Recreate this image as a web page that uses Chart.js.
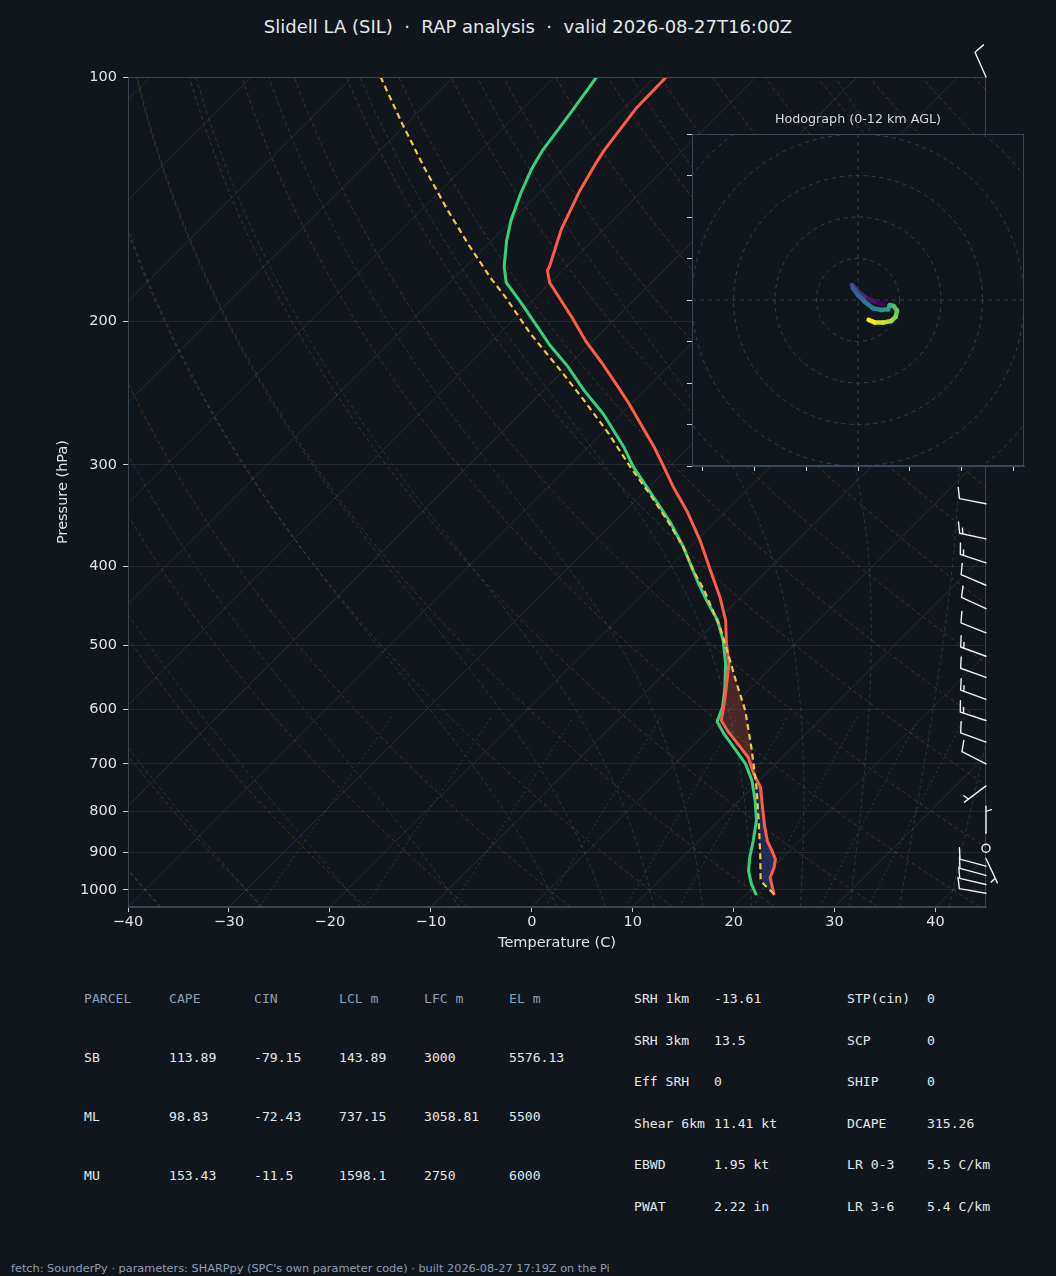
<!DOCTYPE html>
<html>
<head>
<meta charset="utf-8">
<script src="https://cdn.jsdelivr.net/npm/chart.js@4.4.1/dist/chart.umd.min.js"></script>
<style>
  html, body { margin:0; padding:0; background:#11161d; }
  body { width:1056px; height:1276px; position:relative; overflow:hidden; font-family:'DejaVu Sans', sans-serif; }
  #title { position:absolute; left:0; top:15px; width:1056px; text-align:center; font-size:18px; line-height:24px; color:#e4e7ea; white-space:pre; }
  #main { position:absolute; left:0; top:0; }
  #hodo { position:absolute; left:660px; top:100px; }
  .cell { position:absolute; white-space:pre; font-family:'DejaVu Sans Mono', monospace; font-size:13.1px; line-height:16px; color:#e4e7ea; }
  .hdr { color:#8d9db2; }
  #foot { position:absolute; left:11px; top:1262px; font-size:11.3px; line-height:14px; color:#8d9db2; white-space:pre; }
</style>
</head>
<body>
<div id="title"></div>
<canvas id="main" width="1056" height="960"></canvas>
<canvas id="hodo" width="380" height="380"></canvas>
<div id="tables"></div>
<div id="foot"></div>
<script>
// ---------------- data ----------------
const titleText = 'Slidell LA (SIL)  \u00b7  RAP analysis  \u00b7  valid 2026-08-27T16:00Z';
const footText = "fetch: SounderPy \u00b7 parameters: SHARPpy (SPC's own parameter code) \u00b7 built 2026-08-27 17:19Z on the Pi";

const pressureTicks = [100, 200, 300, 400, 500, 600, 700, 800, 900, 1000];
const tempTicks = [-40, -30, -20, -10, 0, 10, 20, 30, 40];

// environmental temperature (hPa, degC)
const tempP = [1012, 966, 939, 917, 895, 871, 838, 792, 748, 720, 687, 662, 637, 619, 580, 525, 498, 466, 437, 405, 372, 343, 320, 299, 285, 267, 252, 238, 225, 211, 197, 186, 179, 173, 171, 154, 138, 128, 123, 109, 100];
const tempC = [22.7, 20.7, 20.1, 19.4, 18.2, 16.8, 15.2, 13.0, 10.8, 8.8, 6.6, 4.3, 1.9, 0.3, -1.6, -4.7, -6.8, -9.2, -12.0, -15.6, -19.6, -23.7, -27.5, -31.0, -33.5, -37.1, -40.3, -43.6, -46.9, -50.8, -54.6, -57.9, -60.1, -61.5, -61.7, -64.2, -66.2, -67.3, -67.8, -68.8, -68.9];

// dewpoint
const dewP = [1012, 984, 948, 913, 871, 822, 777, 734, 700, 668, 643, 621, 596, 564, 527, 494, 466, 441, 416, 379, 353, 329, 302, 285, 260, 243, 227, 214, 203, 189, 179, 171, 159, 150, 139, 130, 123, 111, 100];
const dewC = [20.9, 19.5, 17.9, 16.7, 15.4, 13.7, 11.6, 9.3, 7.0, 4.2, 1.9, 0.0, -0.9, -2.6, -4.9, -7.4, -10.0, -13.0, -16.0, -20.6, -24.4, -28.5, -33.5, -36.5, -41.7, -46.0, -50.0, -53.8, -56.9, -61.1, -64.4, -66.2, -68.5, -70.1, -71.8, -73.1, -73.9, -74.8, -75.8];

// surface-based parcel
const parcelP = [1012, 984, 970, 904, 815, 748, 674, 602, 558, 522, 475, 462, 428, 405, 379, 351, 326, 302, 275, 250, 230, 207, 186, 177, 161, 146, 130, 114, 100];
const parcelC = [22.7, 20.7, 19.9, 17.4, 13.6, 10.4, 6.3, 1.7, -1.8, -4.8, -9.1, -10.5, -14.3, -17.3, -20.6, -24.9, -29.2, -33.8, -39.2, -45.0, -50.2, -56.9, -63.2, -66.3, -71.8, -77.3, -83.6, -90.5, -97.2];

// shading bounds (hPa): CIN below LFC, CAPE between LFC and EL
const lfcP = 720, elP = 525, sfcP = 1012;

// wind barbs (hPa, direction deg, speed kt)
const barbP   = [100, 335, 370, 396, 422, 451, 483, 516, 548, 583, 619, 658, 700, 745, 852, 889, 915, 935, 960, 985, 1010];
const barbDir = [336, 281, 282, 288, 293, 295, 292, 290, 290, 290, 288, 290, 297, 233, 0, 0, 155, 285, 285, 283, 280];
const barbSpd = [10, 10, 15, 15, 10, 10, 10, 15, 10, 15, 15, 10, 10, 5, 5, 0, 5, 10, 10, 10, 10];

// hodograph (kt), low levels first
const hodoU = [12.4, 8.0, 3.2, -0.8, -2.9, -2.4, 0.0, 3.2, 7.2, 11.2, 14.5, 15.3, 17.2, 18.8, 18.2, 16.1, 12.0, 8.0, 5.1];
const hodoV = [-2.2, -0.8, 1.6, 4.8, 7.2, 5.6, 2.4, -0.8, -4.0, -4.8, -4.5, -2.4, -2.9, -5.1, -8.0, -10.1, -10.9, -10.8, -9.6];
const hodoRings = [20, 40, 60, 80, 100];
const hodoXTicks = [-75, -50, -25, 0, 25, 50, 75];
const hodoYTicks = [-80, -60, -40, -20, 0, 20, 40, 60, 80];

// parameter tables
const parcelHeader = ['PARCEL', 'CAPE', 'CIN', 'LCL m', 'LFC m', 'EL m'];
const parcelSB = ['SB', '113.89', '-79.15', '143.89', '3000', '5576.13'];
const parcelML = ['ML', '98.83', '-72.43', '737.15', '3058.81', '5500'];
const parcelMU = ['MU', '153.43', '-11.5', '1598.1', '2750', '6000'];
const paramNames1 = ['SRH 1km', 'SRH 3km', 'Eff SRH', 'Shear 6km', 'EBWD', 'PWAT'];
const paramVals1  = ['-13.61', '13.5', '0', '11.41 kt', '1.95 kt', '2.22 in'];
const paramNames2 = ['STP(cin)', 'SCP', 'SHIP', 'DCAPE', 'LR 0-3', 'LR 3-6'];
const paramVals2  = ['0', '0', '0', '315.26', '5.5 C/km', '5.4 C/km'];

// ---------------- page text ----------------
document.getElementById('title').textContent = titleText;
document.getElementById('foot').textContent = footText;
(function buildTables(){
  const host = document.getElementById('tables');
  const add = (txt, x, y, cls) => { const d = document.createElement('div'); d.className = 'cell' + (cls ? ' ' + cls : ''); d.textContent = txt; d.style.left = x + 'px'; d.style.top = (y - 8) + 'px'; host.appendChild(d); };
  const colX = [84, 169, 254, 339, 424, 509];
  parcelHeader.forEach((t, i) => add(t, colX[i], 999, 'hdr'));
  [parcelSB, parcelML, parcelMU].forEach((row, r) => row.forEach((t, i) => add(t, colX[i], 1058 + r * 59, '')));
  const rowY = [999, 1041, 1082, 1124, 1165, 1207];
  paramNames1.forEach((t, i) => { add(t, 634, rowY[i]); add(paramVals1[i], 714, rowY[i]); });
  paramNames2.forEach((t, i) => { add(t, 847, rowY[i]); add(paramVals2[i], 927, rowY[i]); });
})();

// ---------------- skew-T geometry ----------------
Chart.defaults.font.family = "'DejaVu Sans', sans-serif";
const PBOT = 1050, PTOP = 100, TMIN = -40, TMAX = 45;
const PLOT_W = 858, PLOT_H = 830;
const SKEW = (PLOT_H / Math.log10(PBOT / PTOP)) / (PLOT_W / (TMAX - TMIN)); // 45 degree isotherms
const sk = (T, p) => ({ x: T + SKEW * Math.log10(PBOT / p), y: p });

function interp(P, V, p) {
  for (let i = 0; i < P.length - 1; i++) {
    if (p <= P[i] && p >= P[i + 1]) {
      const f = Math.log(p / P[i]) / Math.log(P[i + 1] / P[i]);
      return V[i] + f * (V[i + 1] - V[i]);
    }
  }
  return V[V.length - 1];
}
function band(pBot, pTop) {
  const pts = [sk(interp(parcelP, parcelC, pBot), pBot)];
  parcelP.forEach((p, i) => { if (p < pBot && p > pTop) pts.push(sk(parcelC[i], p)); });
  pts.push(sk(interp(parcelP, parcelC, pTop), pTop));
  pts.push(sk(interp(tempP, tempC, pTop), pTop));
  for (let i = tempP.length - 1; i >= 0; i--) if (tempP[i] < pBot && tempP[i] > pTop) pts.push(sk(tempC[i], tempP[i]));
  pts.push(sk(interp(tempP, tempC, pBot), pBot));
  return pts;
}

// pressure levels for reference curves
const levels = [];
for (let i = 0; i <= 48; i++) levels.push(PBOT * Math.pow(PTOP / PBOT, i / 48));

function moistLine(T0) {
  const Rd = 287.04, Lv = 2.501e6, Cp = 1005.7, eps = 0.622;
  const f = (T, p) => { const Tc = T - 273.15; const es = 6.112 * Math.exp(17.67 * Tc / (Tc + 243.5)); const rs = eps * es / (p - es); return (Rd * T + Lv * rs) / (Cp + Lv * Lv * rs * eps / (Rd * T * T)) / p; };
  const up = [[1000, T0 + 273.15]];
  let T = T0 + 273.15, p = 1000;
  while (p > PTOP + 0.01) { const dp = -Math.min(10, p - PTOP); const k1 = f(T, p); const k2 = f(T + k1 * dp / 2, p + dp / 2); T += k2 * dp; p += dp; up.push([p, T]); }
  const down = []; T = T0 + 273.15; p = 1000;
  while (p < PBOT) { const dp = Math.min(10, PBOT - p); const k1 = f(T, p); const k2 = f(T + k1 * dp / 2, p + dp / 2); T += k2 * dp; p += dp; down.push([p, T]); }
  return down.reverse().concat(up).map(([pp, TT]) => sk(TT - 273.15, pp));
}

const datasets = [];
const line = (pts, color, width, dash, order, extra) => Object.assign({ data: pts, borderColor: color, borderWidth: width, borderDash: dash || [], pointRadius: 0, fill: false, order, showLine: true }, extra || {});

// isotherms
for (let T = -120; T <= 40; T += 10) datasets.push(line([sk(T, PBOT), sk(T, PTOP)], 'rgba(200,210,225,0.12)', 1, [], 30));
// dry adiabats
for (let th = -40; th <= 200; th += 10) datasets.push(line(levels.map(p => sk((th + 273.15) * Math.pow(p / 1000, 0.2857) - 273.15, p)), 'rgba(200,130,70,0.28)', 1, [4, 3], 29));
// moist adiabats
[-40, -30, -20, -10, 0, 5, 10, 15, 20, 25, 30, 35, 40, 45].forEach(t0 => datasets.push(line(moistLine(t0), 'rgba(110,160,185,0.24)', 1, [4, 3], 28)));
// mixing ratio lines
[0.4, 1, 2, 4, 7, 10, 16, 24, 32].forEach(w => {
  const pts = levels.filter(p => p >= 599).map(p => { const e = w * p / (622 + w); const l = Math.log(e / 6.112); return sk(243.5 * l / (17.67 - l), p); });
  datasets.push(line(pts, 'rgba(120,170,110,0.28)', 1, [2, 3], 27));
});
// CIN / CAPE shading
datasets.push(line(band(sfcP, lfcP), 'rgba(0,0,0,0)', 0, [], 10, { fill: 'shape', backgroundColor: 'rgba(60,100,200,0.32)' }));
datasets.push(line(band(lfcP, elP), 'rgba(0,0,0,0)', 0, [], 10, { fill: 'shape', backgroundColor: 'rgba(200,90,60,0.30)' }));
// profiles
datasets.push(line(dewP.map((p, i) => sk(dewC[i], p)), '#34d27a', 3, [], 3, { borderCapStyle: 'round', borderJoinStyle: 'round' }));
datasets.push(line(tempP.map((p, i) => sk(tempC[i], p)), '#ff5b4b', 3, [], 2, { borderCapStyle: 'round', borderJoinStyle: 'round' }));
datasets.push(line(parcelP.map((p, i) => sk(parcelC[i], p)), '#f5c542', 2.2, [6, 4], 1));

function drawBarb(ctx, x, y, dir, spd, L) {
  const th = dir * Math.PI / 180;
  const dx = Math.sin(th), dy = -Math.cos(th);
  const nx = -dy, ny = dx;
  let s = Math.round(spd / 5) * 5;
  ctx.beginPath();
  if (s < 5) { ctx.arc(x, y, 0.15 * L, 0, Math.PI * 2); ctx.stroke(); return; }
  const H = 0.4 * L, W = 0.25 * L, S = 0.125 * L;
  const nflag = Math.floor(s / 50); s -= nflag * 50;
  const nbarb = Math.floor(s / 10); s -= nbarb * 10;
  const half = s >= 5;
  const P = (a, b) => [x + dx * a + nx * b, y + dy * a + ny * b];
  ctx.moveTo(x, y); ctx.lineTo(...P(L, 0));
  let off = L;
  for (let i = 0; i < nflag; i++) { ctx.moveTo(...P(off, 0)); ctx.lineTo(...P(off - W / 2, H)); ctx.lineTo(...P(off - W, 0)); off -= W + S; }
  for (let i = 0; i < nbarb; i++) { ctx.moveTo(...P(off, 0)); ctx.lineTo(...P(off + W / 2, H)); off -= S; }
  if (half) { if (off === L) off -= 1.5 * S; ctx.moveTo(...P(off, 0)); ctx.lineTo(...P(off + W / 4, H / 2)); }
  ctx.stroke();
}

const skewDecor = {
  id: 'skewDecor',
  afterDatasetsDraw(chart) {
    const { ctx, chartArea: a, scales } = chart;
    ctx.save();
    ctx.strokeStyle = '#3a4552'; ctx.lineWidth = 1;
    ctx.strokeRect(a.left + 0.5, a.top + 0.5, a.right - a.left - 1, a.bottom - a.top - 1);
    ctx.strokeStyle = '#eef1f4'; ctx.lineWidth = 1.4; ctx.lineCap = 'round'; ctx.lineJoin = 'round';
    barbP.forEach((p, i) => drawBarb(ctx, a.right, scales.y.getPixelForValue(p), barbDir[i], barbSpd[i], 27));
    ctx.restore();
  }
};

const fmtT = v => (v < 0 ? '\u2212' + Math.abs(v) : String(v));
const TICK_C = '#dfe3e7';

new Chart(document.getElementById('main'), {
  type: 'line',
  data: { datasets },
  options: {
    responsive: false, animation: false, events: [],
    layout: { padding: { top: 77, right: 70, left: 0, bottom: 0 } },
    plugins: { legend: { display: false }, tooltip: { enabled: false } },
    scales: {
      x: {
        type: 'linear', min: TMIN, max: TMAX,
        afterBuildTicks: s => { s.ticks = tempTicks.map(v => ({ value: v })); },
        afterFit: s => { s.height = 53; },
        ticks: { color: TICK_C, font: { size: 14.5 }, padding: 2, autoSkip: false, maxRotation: 0, callback: v => fmtT(v) },
        grid: { display: true, drawOnChartArea: false, drawTicks: true, tickLength: 5, tickColor: '#c9ced4' },
        border: { display: true, color: '#3a4552' },
        title: { display: true, text: 'Temperature (C)', color: TICK_C, font: { size: 14.5 }, padding: { top: 0, bottom: 8.3 } }
      },
      y: {
        type: 'logarithmic', min: PTOP, max: PBOT, reverse: true,
        afterBuildTicks: s => { s.ticks = pressureTicks.map(v => ({ value: v })); },
        afterFit: s => { s.width = 128; },
        ticks: { color: TICK_C, font: { size: 14.5 }, padding: 6, autoSkip: false, callback: v => String(v) },
        grid: { display: true, drawOnChartArea: true, color: 'rgba(200,210,225,0.10)', drawTicks: true, tickLength: 5, tickColor: '#c9ced4' },
        border: { display: true, color: '#3a4552' },
        title: { display: true, text: 'Pressure (hPa)', color: TICK_C, font: { size: 14.5 }, padding: { top: 54.3, bottom: 0 } }
      }
    }
  },
  plugins: [skewDecor]
});

// ---------------- hodograph ----------------
const VIR = [[68,1,84],[72,40,120],[62,74,137],[49,104,142],[38,130,142],[31,158,137],[53,183,121],[109,205,89],[180,222,44],[253,231,37]];
function viridis(t) {
  t = Math.max(0, Math.min(1, t));
  const s = t * (VIR.length - 1); const i = Math.min(VIR.length - 2, Math.floor(s)); const f = s - i;
  const c = VIR[i].map((v, k) => Math.round(v + (VIR[i + 1][k] - v) * f));
  return 'rgb(' + c.join(',') + ')';
}
const hodoDecor = {
  id: 'hodoDecor',
  beforeDraw(chart) {
    const { ctx, chartArea: a } = chart;
    ctx.save(); ctx.fillStyle = '#11161d'; ctx.fillRect(a.left, a.top, a.right - a.left, a.bottom - a.top); ctx.restore();
  },
  beforeDatasetsDraw(chart) {
    const { ctx, chartArea: a, scales: { x, y } } = chart;
    const cx = x.getPixelForValue(0), cy = y.getPixelForValue(0);
    ctx.save();
    ctx.beginPath(); ctx.rect(a.left, a.top, a.right - a.left, a.bottom - a.top); ctx.clip();
    ctx.strokeStyle = '#35414f'; ctx.lineWidth = 1; ctx.setLineDash([4, 4]);
    hodoRings.forEach(r => { const rp = x.getPixelForValue(r) - cx; ctx.beginPath(); ctx.arc(cx, cy, rp, 0, Math.PI * 2); ctx.stroke(); });
    ctx.beginPath(); ctx.moveTo(a.left, cy); ctx.lineTo(a.right, cy); ctx.moveTo(cx, a.top); ctx.lineTo(cx, a.bottom); ctx.stroke();
    ctx.restore();
  },
  afterDraw(chart) {
    const { ctx, chartArea: a } = chart;
    ctx.save();
    ctx.strokeStyle = '#3a4756'; ctx.lineWidth = 1;
    ctx.strokeRect(a.left + 0.5, a.top + 0.5, a.right - a.left - 1, a.bottom - a.top - 1);
    ctx.fillStyle = '#d6dade'; ctx.font = "12.7px 'DejaVu Sans', sans-serif"; ctx.textAlign = 'center'; ctx.textBaseline = 'middle';
    ctx.fillText('Hodograph (0-12 km AGL)', (a.left + a.right) / 2, a.top - 14);
    ctx.restore();
  }
};
const nH = hodoU.length;
new Chart(document.getElementById('hodo'), {
  type: 'line',
  data: { datasets: [{
    data: hodoU.map((u, i) => ({ x: u, y: hodoV[i] })),
    borderWidth: 4.5, pointRadius: 0, fill: false, borderCapStyle: 'round', borderJoinStyle: 'round',
    borderColor: viridis(0),
    segment: { borderColor: c => viridis(c.p0DataIndex / (nH - 2)) }
  }] },
  options: {
    responsive: false, animation: false, events: [],
    layout: { padding: { top: 34, right: 16, left: 0, bottom: 0 } },
    plugins: { legend: { display: false }, tooltip: { enabled: false } },
    scales: {
      x: {
        type: 'linear', min: -80, max: 80,
        afterBuildTicks: s => { s.ticks = hodoXTicks.map(v => ({ value: v })); },
        afterFit: s => { s.height = 14; },
        ticks: { display: false },
        grid: { display: true, drawOnChartArea: false, drawTicks: true, tickLength: 5, tickColor: '#c9ced4' },
        border: { display: true, color: '#3a4756' }
      },
      y: {
        type: 'linear', min: -80, max: 80,
        afterBuildTicks: s => { s.ticks = hodoYTicks.map(v => ({ value: v })); },
        afterFit: s => { s.width = 32; },
        ticks: { display: false },
        grid: { display: true, drawOnChartArea: false, drawTicks: true, tickLength: 5, tickColor: '#c9ced4' },
        border: { display: true, color: '#3a4756' }
      }
    }
  },
  plugins: [hodoDecor]
});
</script>
</body>
</html>
